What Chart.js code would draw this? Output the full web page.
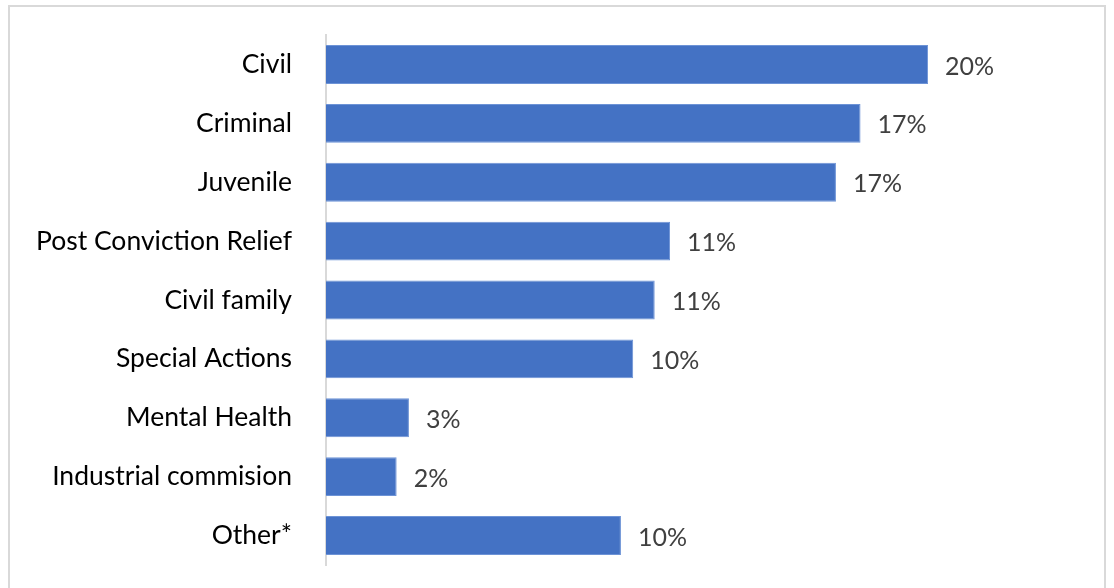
<!DOCTYPE html>
<html>
<head>
<meta charset="utf-8">
<script src="https://cdn.jsdelivr.net/npm/chart.js@4.4.1/dist/chart.umd.min.js"></script>
<style>
  html, body { margin: 0; padding: 0; background: #fff; overflow: hidden; }
  #frame { position: absolute; left: 8px; top: 5px; width: 1098px; height: 600px; border: 2px solid #d9d9d9; box-sizing: border-box; }
  #wrap { position: absolute; left: 0; top: 0; width: 1114px; height: 588px; }
</style>
</head>
<body>
<div id="frame"></div>
<div id="wrap"><canvas id="chart"></canvas></div>
<script>
// case types, top to bottom
const categories = ['Civil', 'Criminal', 'Juvenile', 'Post Conviction Relief', 'Civil family',
                    'Special Actions', 'Mental Health', 'Industrial commision', 'Other*'];
// share of cases (%)
const shares = [19.6, 17.4, 16.6, 11.2, 10.7, 10.0, 2.7, 2.3, 9.6];
// labels as printed on the chart
const valueLabels = ['20%', '17%', '17%', '11%', '11%', '10%', '3%', '2%', '10%'];

const FONT = "Lato, 'Open Sans', sans-serif";

// draws the % text to the right of each bar
const valueLabelPlugin = {
    id: 'valueLabels',
    afterDatasetsDraw(chart) {
        const ctx = chart.ctx;
        const meta = chart.getDatasetMeta(0);
        ctx.save();
        ctx.font = `25px ${FONT}`;
        ctx.fillStyle = '#404040';
        ctx.textAlign = 'left';
        ctx.textBaseline = 'middle';
        meta.data.forEach((bar, i) => {
            ctx.fillText(valueLabels[i], bar.x + 17, bar.y + 2);
        });
        ctx.restore();
    }
};

new Chart(document.getElementById('chart').getContext('2d'), {
    type: 'bar',
    data: {
        labels: categories,
        datasets: [{
            data: shares,
            backgroundColor: '#4472c4',
            borderColor: '#6d93d6',
            borderWidth: 1,
            borderSkipped: 'left',
            categoryPercentage: 1,
            barPercentage: 0.66
        }]
    },
    options: {
        indexAxis: 'y',
        responsive: true,
        maintainAspectRatio: false,
        animation: false,
        layout: { padding: { top: 35, bottom: 23, right: 20, left: 0 } },
        plugins: {
            legend: { display: false },
            tooltip: { enabled: false }
        },
        scales: {
            x: { display: false, min: 0, max: 25 },
            y: {
                afterFit: (scale) => {
                    scale.width = 326;
                    scale.paddingTop = 0;
                    scale.paddingBottom = 0;
                },
                grid: { display: false, drawTicks: false },
                border: { display: true, color: '#d9d9d9', width: 2 },
                ticks: {
                    padding: 34,
                    color: '#000',
                    font: { family: FONT, size: 26.5 }
                }
            }
        }
    },
    plugins: [valueLabelPlugin]
});
</script>
</body>
</html>
